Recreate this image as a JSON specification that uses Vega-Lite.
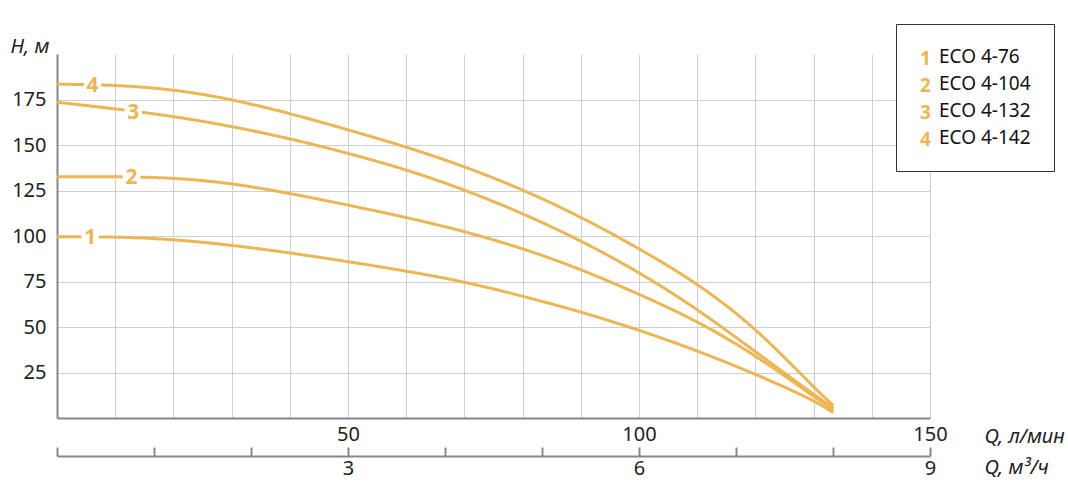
{
  "$schema": "https://vega.github.io/schema/vega-lite/v6.json",
  "width": 873,
  "height": 364,
  "autosize": "none",
  "padding": {"left": 57, "top": 54, "right": 138, "bottom": 85},
  "config": {"view": {"stroke": null}, "font": "Noto Sans", "background": "white"},
  "datasets": {
    "curves": [
      {"q": 0, "h": 99.6, "n": "1", "model": "ECO 4-76"},
      {"q": 10, "h": 99.6, "n": "1", "model": "ECO 4-76"},
      {"q": 20, "h": 98.2, "n": "1", "model": "ECO 4-76"},
      {"q": 30, "h": 95.0, "n": "1", "model": "ECO 4-76"},
      {"q": 40, "h": 90.8, "n": "1", "model": "ECO 4-76"},
      {"q": 50, "h": 85.9, "n": "1", "model": "ECO 4-76"},
      {"q": 60, "h": 80.8, "n": "1", "model": "ECO 4-76"},
      {"q": 70, "h": 74.9, "n": "1", "model": "ECO 4-76"},
      {"q": 80, "h": 67.0, "n": "1", "model": "ECO 4-76"},
      {"q": 90, "h": 58.4, "n": "1", "model": "ECO 4-76"},
      {"q": 100, "h": 48.4, "n": "1", "model": "ECO 4-76"},
      {"q": 110, "h": 37.0, "n": "1", "model": "ECO 4-76"},
      {"q": 120, "h": 24.2, "n": "1", "model": "ECO 4-76"},
      {"q": 130, "h": 9.9, "n": "1", "model": "ECO 4-76"},
      {"q": 133.4, "h": 2.9, "n": "1", "model": "ECO 4-76"},
      {"q": 0, "h": 132.6, "n": "2", "model": "ECO 4-104"},
      {"q": 10, "h": 132.6, "n": "2", "model": "ECO 4-104"},
      {"q": 20, "h": 132.1, "n": "2", "model": "ECO 4-104"},
      {"q": 30, "h": 129.0, "n": "2", "model": "ECO 4-104"},
      {"q": 40, "h": 123.5, "n": "2", "model": "ECO 4-104"},
      {"q": 50, "h": 117.0, "n": "2", "model": "ECO 4-104"},
      {"q": 60, "h": 110.3, "n": "2", "model": "ECO 4-104"},
      {"q": 70, "h": 102.6, "n": "2", "model": "ECO 4-104"},
      {"q": 80, "h": 93.3, "n": "2", "model": "ECO 4-104"},
      {"q": 90, "h": 81.8, "n": "2", "model": "ECO 4-104"},
      {"q": 100, "h": 68.1, "n": "2", "model": "ECO 4-104"},
      {"q": 110, "h": 53.4, "n": "2", "model": "ECO 4-104"},
      {"q": 120, "h": 34.6, "n": "2", "model": "ECO 4-104"},
      {"q": 130, "h": 11.9, "n": "2", "model": "ECO 4-104"},
      {"q": 133.4, "h": 4.4, "n": "2", "model": "ECO 4-104"},
      {"q": 0, "h": 173.5, "n": "3", "model": "ECO 4-132"},
      {"q": 10, "h": 169.9, "n": "3", "model": "ECO 4-132"},
      {"q": 20, "h": 165.8, "n": "3", "model": "ECO 4-132"},
      {"q": 30, "h": 160.3, "n": "3", "model": "ECO 4-132"},
      {"q": 40, "h": 153.6, "n": "3", "model": "ECO 4-132"},
      {"q": 50, "h": 145.5, "n": "3", "model": "ECO 4-132"},
      {"q": 60, "h": 136.6, "n": "3", "model": "ECO 4-132"},
      {"q": 70, "h": 125.5, "n": "3", "model": "ECO 4-132"},
      {"q": 80, "h": 112.5, "n": "3", "model": "ECO 4-132"},
      {"q": 90, "h": 97.6, "n": "3", "model": "ECO 4-132"},
      {"q": 100, "h": 80.2, "n": "3", "model": "ECO 4-132"},
      {"q": 110, "h": 60.0, "n": "3", "model": "ECO 4-132"},
      {"q": 120, "h": 36.4, "n": "3", "model": "ECO 4-132"},
      {"q": 130, "h": 13.0, "n": "3", "model": "ECO 4-132"},
      {"q": 133.4, "h": 5.3, "n": "3", "model": "ECO 4-132"},
      {"q": 0, "h": 183.4, "n": "4", "model": "ECO 4-142"},
      {"q": 10, "h": 183.0, "n": "4", "model": "ECO 4-142"},
      {"q": 20, "h": 180.6, "n": "4", "model": "ECO 4-142"},
      {"q": 30, "h": 175.2, "n": "4", "model": "ECO 4-142"},
      {"q": 40, "h": 167.4, "n": "4", "model": "ECO 4-142"},
      {"q": 50, "h": 158.4, "n": "4", "model": "ECO 4-142"},
      {"q": 60, "h": 149.0, "n": "4", "model": "ECO 4-142"},
      {"q": 70, "h": 138.3, "n": "4", "model": "ECO 4-142"},
      {"q": 80, "h": 125.6, "n": "4", "model": "ECO 4-142"},
      {"q": 90, "h": 110.6, "n": "4", "model": "ECO 4-142"},
      {"q": 100, "h": 93.2, "n": "4", "model": "ECO 4-142"},
      {"q": 110, "h": 74.2, "n": "4", "model": "ECO 4-142"},
      {"q": 120, "h": 49.8, "n": "4", "model": "ECO 4-142"},
      {"q": 130, "h": 16.9, "n": "4", "model": "ECO 4-142"},
      {"q": 133.4, "h": 6.8, "n": "4", "model": "ECO 4-142"}
    ],
    "labels": [
      {"q": 5.7, "h": 99.6, "n": "1"},
      {"q": 12.8, "h": 132.4, "n": "2"},
      {"q": 13.1, "h": 168.2, "n": "3"},
      {"q": 6.1, "h": 183.2, "n": "4"}
    ],
    "m3": [{"m": 0}, {"m": 9}]
  },
  "layer": [
    {
      "layer": [
        {
          "data": {"name": "curves"},
          "mark": {"type": "line", "interpolate": "basis", "strokeWidth": 3},
          "encoding": {
            "x": {
              "field": "q", "type": "quantitative",
              "scale": {"domain": [0, 150], "nice": false, "zero": false},
              "axis": {
                "orient": "bottom",
                "values": [0, 10, 20, 30, 40, 50, 60, 70, 80, 90, 100, 110, 120, 130, 140, 150],
                "labelExpr": "datum.value % 50 == 0 && datum.value > 0 ? datum.label : ''",
                "grid": true, "gridColor": "#cfcfcf", "gridWidth": 1,
                "ticks": false,
                "domainColor": "#888888", "domainWidth": 2,
                "labelFontSize": 20, "labelColor": "#222222", "labelPadding": 6, "labelFlush": false,
                "title": "Q, л/мин", "titleFontStyle": "italic", "titleFontWeight": "normal",
                "titleFontSize": 20, "titleColor": "#222222",
                "titleX": 927, "titleY": 18, "titleAlign": "left", "titleBaseline": "middle", "titleAngle": 0
              }
            },
            "y": {
              "field": "h", "type": "quantitative",
              "scale": {"domain": [0, 200], "nice": false},
              "axis": {
                "values": [25, 50, 75, 100, 125, 150, 175],
                "grid": true, "gridColor": "#cfcfcf", "gridWidth": 1,
                "ticks": false,
                "domainColor": "#888888", "domainWidth": 2,
                "labelFontSize": 20, "labelColor": "#222222", "labelPadding": 11,
                "title": "H, м", "titleFontStyle": "italic", "titleFontWeight": "normal",
                "titleFontSize": 20, "titleColor": "#222222",
                "titleAngle": 0, "titleX": -47, "titleY": -8, "titleAlign": "left", "titleBaseline": "middle"
              }
            },
            "color": {
              "field": "n", "type": "nominal",
              "scale": {"domain": ["1", "2", "3", "4"], "range": ["#EDB655", "#EDB655", "#EDB655", "#EDB655"]},
              "legend": {
                "orient": "none", "legendX": 844, "legendY": -5, "title": null,
                "padding": 0, "symbolSize": 0, "symbolOpacity": 0, "symbolStrokeWidth": 0,
                "labelOffset": 0, "labelFontSize": 19, "labelFontWeight": "bold", "labelColor": "#EDB655",
                "rowPadding": 7, "zindex": 5
              }
            },
            "strokeDash": {
              "field": "model", "type": "nominal",
              "scale": {"domain": ["ECO 4-76", "ECO 4-104", "ECO 4-132", "ECO 4-142"], "range": [[1, 0], [1, 0], [1, 0], [1, 0]]},
              "legend": {
                "orient": "none", "legendX": 839, "legendY": -30, "title": null,
                "padding": 23, "strokeColor": "#333333", "fillColor": "white", "cornerRadius": 0,
                "symbolSize": 0, "symbolOpacity": 0, "symbolStrokeWidth": 0,
                "labelOffset": 1, "labelFontSize": 19, "labelColor": "#111111",
                "rowPadding": 7, "zindex": 1
              }
            }
          }
        },
        {
          "data": {"name": "labels"},
          "mark": {"type": "point", "shape": "square", "size": 300, "filled": true, "color": "white", "opacity": 1, "strokeWidth": 0},
          "encoding": {
            "x": {"field": "q", "type": "quantitative"},
            "y": {"field": "h", "type": "quantitative"}
          }
        },
        {
          "data": {"name": "labels"},
          "mark": {"type": "text", "fontSize": 21, "fontWeight": "bold", "color": "#EDB655", "align": "center", "baseline": "middle", "dy": 1},
          "encoding": {
            "x": {"field": "q", "type": "quantitative"},
            "y": {"field": "h", "type": "quantitative"},
            "text": {"field": "n"}
          }
        }
      ]
    },
    {
      "data": {"name": "m3"},
      "mark": {"type": "point", "opacity": 0},
      "encoding": {
        "x": {
          "field": "m", "type": "quantitative",
          "scale": {"domain": [0, 9], "nice": false, "zero": false},
          "axis": {
            "orient": "bottom", "offset": 38,
            "values": [0, 1, 2, 3, 4, 5, 6, 7, 8, 9],
            "labelExpr": "datum.value % 3 == 0 && datum.value > 0 ? datum.label : ''",
            "grid": false,
            "ticks": true, "tickSize": -9, "tickColor": "#888888", "tickWidth": 2,
            "domainColor": "#888888", "domainWidth": 2,
            "labelFontSize": 20, "labelColor": "#222222", "labelPadding": 11, "labelFlush": false,
            "title": "Q, м³/ч", "titleFontStyle": "italic", "titleFontWeight": "normal",
            "titleFontSize": 20, "titleColor": "#222222",
            "titleX": 927, "titleY": 11, "titleAlign": "left", "titleBaseline": "middle", "titleAngle": 0
          }
        }
      }
    }
  ],
  "resolve": {"scale": {"x": "independent"}}
}
